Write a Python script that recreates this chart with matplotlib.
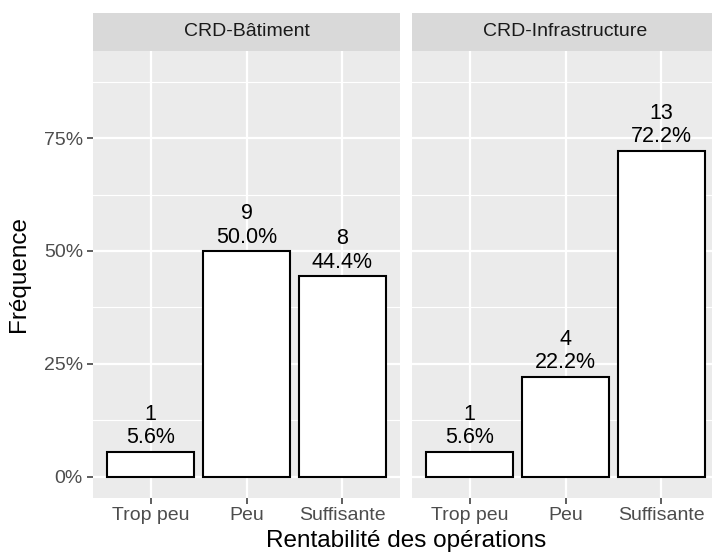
import matplotlib.pyplot as plt
from matplotlib.ticker import FixedLocator

plt.rcParams['font.family'] = ['Liberation Sans', 'DejaVu Sans']

# Data
categories = ['Trop peu', 'Peu', 'Suffisante']
facets = ['CRD-Bâtiment', 'CRD-Infrastructure']
counts = {'CRD-Bâtiment': [1, 9, 8],
          'CRD-Infrastructure': [1, 4, 13]}
freqs = {'CRD-Bâtiment': [0.056, 0.500, 0.444],
         'CRD-Infrastructure': [0.056, 0.222, 0.722]}
y_ticks = [0, 0.25, 0.5, 0.75]
y_ticklabels = ['0%', '25%', '50%', '75%']

W, H = 712, 555
fig = plt.figure(figsize=(W / 100, H / 100), dpi=100)

panel_left = [93, 412]
panel_w = 307
panel_top, panel_bot = 51, 498
strip_top = 13

for k, name in enumerate(facets):
    ax = fig.add_axes([panel_left[k] / W, (H - panel_bot) / H,
                       panel_w / W, (panel_bot - panel_top) / H])
    ax.set_facecolor('#EBEBEB')
    for s in ax.spines.values():
        s.set_visible(False)
    x = list(range(len(categories)))
    ax.set_xlim(-0.6, 2.6)
    ax.set_ylim(-0.0465, 0.9425)

    # grid
    for yv in [0.125, 0.375, 0.625, 0.875]:
        ax.axhline(yv, color='white', lw=0.8, zorder=0)
    for yv in y_ticks:
        ax.axhline(yv, color='white', lw=1.6, zorder=0)
    for xv in x:
        ax.axvline(xv, color='white', lw=1.6, zorder=0)

    ax.bar(x, freqs[name], width=0.9, color='white', edgecolor='black',
           linewidth=1.5, zorder=2)
    for xi, f, c in zip(x, freqs[name], counts[name]):
        ax.annotate(f"{c}\n{f * 100:.1f}%", (xi, f), xytext=(0, 2.5),
                    textcoords='offset points', ha='center', va='bottom',
                    fontsize=15.5, color='black', linespacing=1.15, zorder=3)

    ax.set_xticks(x)
    ax.set_xticklabels(categories)
    ax.tick_params(axis='x', length=4.3, width=1.1, color='#333333',
                   labelsize=14, labelcolor='#4D4D4D', pad=2.5)
    ax.yaxis.set_major_locator(FixedLocator(y_ticks))
    if k == 0:
        ax.set_yticklabels(y_ticklabels)
        ax.tick_params(axis='y', length=4.3, width=1.1, color='#333333',
                       labelsize=14, labelcolor='#4D4D4D', pad=3)
    else:
        ax.tick_params(axis='y', length=0, labelleft=False)

    # facet strip
    sax = fig.add_axes([panel_left[k] / W, (H - panel_top) / H,
                        panel_w / W, (panel_top - strip_top) / H])
    sax.set_facecolor('#D9D9D9')
    sax.set_xticks([])
    sax.set_yticks([])
    for s in sax.spines.values():
        s.set_visible(False)
    sax.text(0.5, 0.5, name, ha='center', va='center', fontsize=14,
             color='#1A1A1A', transform=sax.transAxes)

fig.text(406 / W, 3 / H, 'Rentabilité des opérations', ha='center',
         va='bottom', fontsize=17.5, color='black')
fig.text(8 / W, (H - 274) / H, 'Fréquence', ha='left', va='center',
         rotation=90, fontsize=17.5, color='black')

fig.savefig('out.png', dpi=100)
